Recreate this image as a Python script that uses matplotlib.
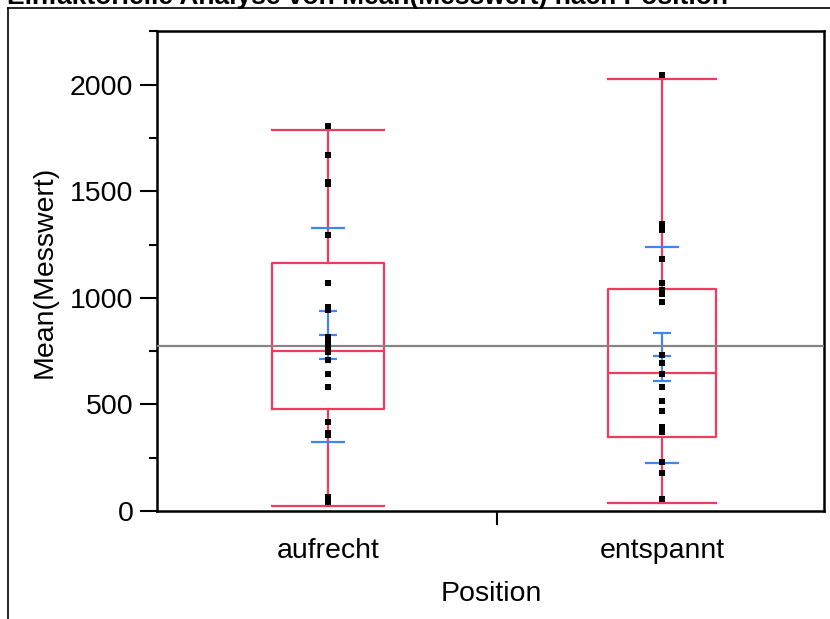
import matplotlib
matplotlib.use("Agg")
import matplotlib.pyplot as plt
from matplotlib.lines import Line2D

plt.rcParams['font.family'] = ['Liberation Sans', 'DejaVu Sans']

# ---- data ----
categories = ["aufrecht", "entspannt"]
points_aufrecht = [1808, 1670, 1545, 1532, 1294, 1069, 955, 945, 818, 793,
                   769, 744, 709, 643, 581, 418, 368, 356, 64, 41]
points_entspannt = [2047, 1345, 1320, 1182, 1069, 1035, 1018, 981, 731, 693,
                    643, 581, 518, 468, 393, 369, 230, 180, 55]
q1_vals = [477, 347]
median_vals = [751, 649]
q3_vals = [1163, 1041]
whisker_lo = [23, 36]
whisker_hi = [1789, 2026]
mean_vals = [826, 725]
se_lo = [712, 612]
se_hi = [939, 837]
sd_lo = [324, 224]
sd_hi = [1327, 1238]
grand_mean = 776
yticks_major = [0, 500, 1000, 1500, 2000]
yticks_minor = [250, 750, 1250, 1750, 2250]

RED = '#EE3B5E'
BLUE = '#3F85EE'
GRAY = '#858585'

W, H = 830, 619
fig = plt.figure(figsize=(W / 100, H / 100), dpi=100)
ax = fig.add_axes([157 / W, 1 - 511 / H, 667 / W, 480 / H])

positions = [0, 1]
box_widths = [0.335, 0.323]
stats = []
for i, c in enumerate(categories):
    stats.append(dict(label=c, q1=q1_vals[i], med=median_vals[i], q3=q3_vals[i],
                      whislo=whisker_lo[i], whishi=whisker_hi[i], fliers=[]))
lp = dict(color=RED, linewidth=1.6)
ax.bxp(stats, positions=positions, widths=box_widths, capwidths=box_widths,
       showfliers=False, boxprops=lp, whiskerprops=lp, capprops=lp,
       medianprops=lp, manage_ticks=False, zorder=2)

# blue mean error bars and std dev lines
cap_w = 0.054
sd_w = 0.10
for i, p in enumerate(positions):
    ax.vlines(p, se_lo[i], se_hi[i], color=BLUE, lw=1.6, zorder=3)
    for v in (se_lo[i], mean_vals[i], se_hi[i]):
        ax.hlines(v, p - cap_w / 2, p + cap_w / 2, color=BLUE, lw=1.6, zorder=3)
    for v in (sd_lo[i], sd_hi[i]):
        ax.hlines(v, p - sd_w / 2, p + sd_w / 2, color=BLUE, lw=1.6, zorder=3)

# grand mean
ax.axhline(grand_mean, color=GRAY, lw=1.6, zorder=4)

# points
for p, pts in zip(positions, [points_aufrecht, points_entspannt]):
    ax.plot([p] * len(pts), pts, linestyle='none', marker='s', markersize=4.8,
            color='black', markeredgewidth=0, zorder=5)

ax.set_xlim(-0.512, 1.485)
ax.set_ylim(0, 2252)
ax.set_yticks(yticks_major)
ax.set_yticks(yticks_minor, minor=True)
ax.set_xticks([0.506])
ax.set_xticklabels([''])
ax.tick_params(axis='y', which='major', length=12, width=1.5, labelsize=20.5, pad=5)
ax.tick_params(axis='y', which='minor', length=6, width=1.5)
ax.tick_params(axis='x', which='major', length=10, width=1.5)
for s in ax.spines.values():
    s.set_linewidth(1.8)
for p, c in zip(positions, categories):
    ax.text(p, -0.083, c, transform=ax.get_xaxis_transform(), ha='center',
            va='center', fontsize=20.5)
fig.text(491 / W, 1 - 594 / H, 'Position', fontsize=20.5, ha='center', va='center')
fig.text(45 / W, 1 - 272 / H, 'Mean(Messwert)', fontsize=20.5, ha='center',
         va='center', rotation=90)

# outer frame and cut title
fig.add_artist(Line2D([8 / W, 1.0], [1 - 7.5 / H] * 2, color='black', lw=1.2,
                      transform=fig.transFigure))
fig.add_artist(Line2D([8 / W] * 2, [0, 1 - 7.5 / H], color='black', lw=1.2,
                      transform=fig.transFigure))
fig.text(7 / W, 1 - 4 / H, 'Einfaktorielle Analyse von Mean(Messwert) nach Position',
         fontsize=19, fontweight='bold', ha='left', va='baseline')

fig.savefig('out.png', dpi=100)
